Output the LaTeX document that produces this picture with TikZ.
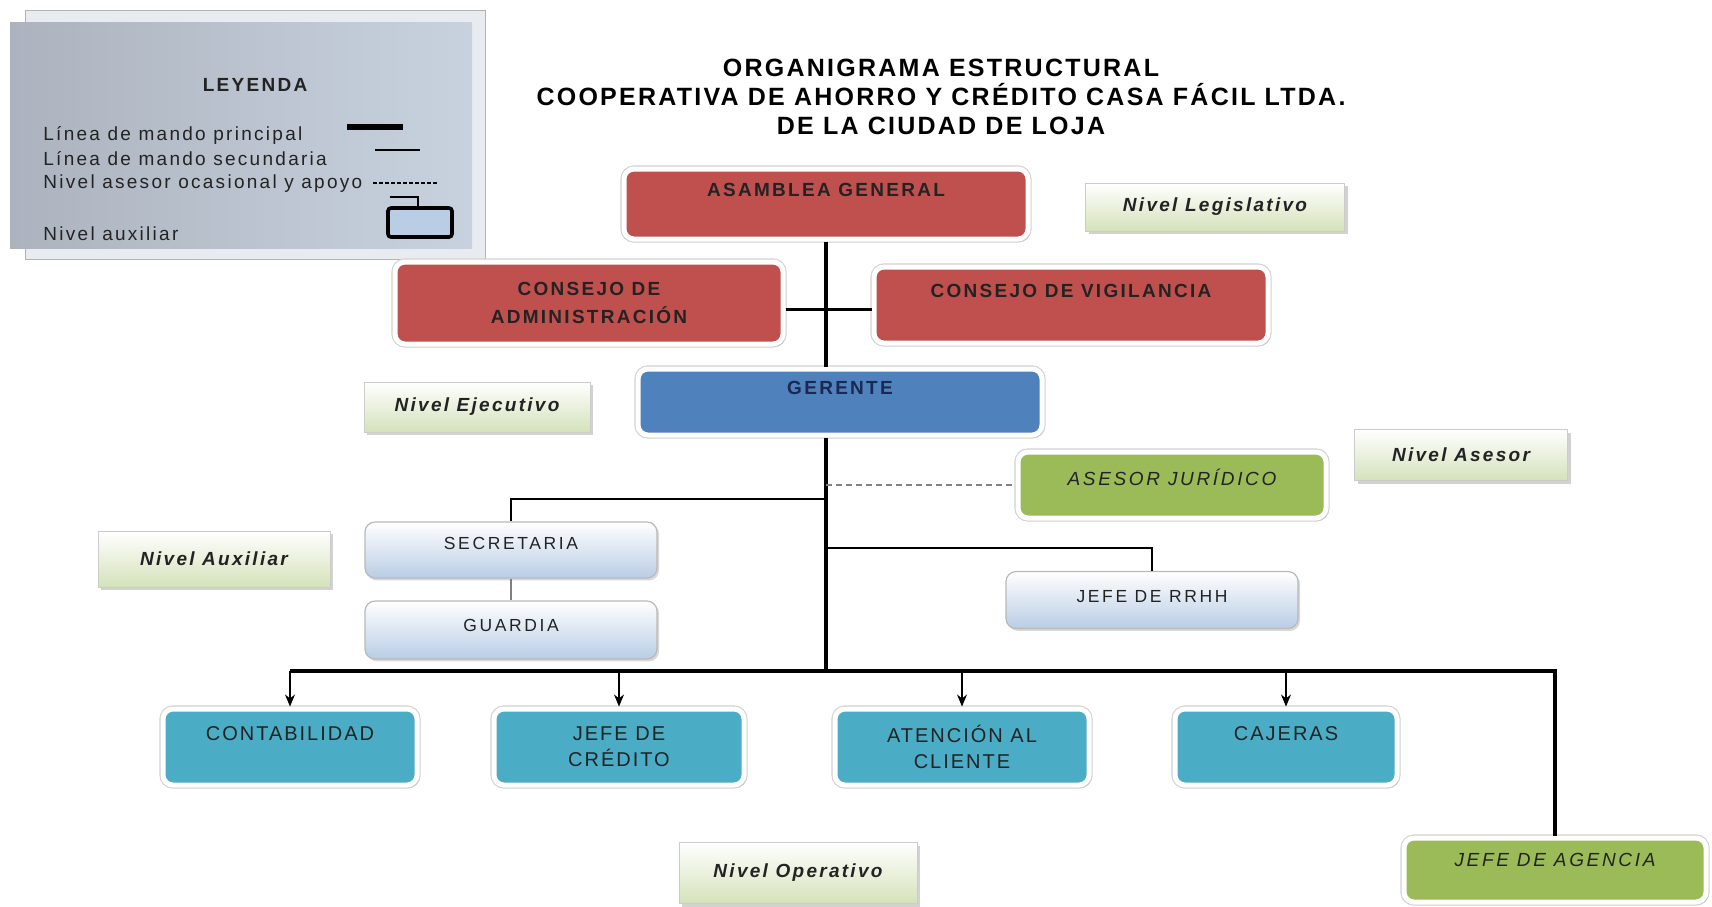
\documentclass[tikz,border=0pt]{standalone}
\usepackage{fontspec}
\setmainfont{Liberation Sans}
\newfontfamily\fontorg[LetterSpace=12]{Liberation Sans}
\newfontfamily\fontaux[LetterSpace=15]{Liberation Sans}
\newfontfamily\fontop[LetterSpace=10]{Liberation Sans}
\newfontfamily\fontase[LetterSpace=14]{Liberation Sans}
\newfontfamily\fonttit[LetterSpace=9]{Liberation Sans}
\usepackage{tikz}
\usetikzlibrary{shadows, arrows.meta}
\definecolor{cred}{RGB}{192,80,77}
\definecolor{cblue}{RGB}{79,129,189}
\definecolor{cgreen}{RGB}{155,187,89}
\definecolor{caqua}{RGB}{75,172,198}
\definecolor{clight}{RGB}{185,205,229}
\definecolor{cniv}{RGB}{212,226,186}
\definecolor{cnavy}{RGB}{28,40,80}
\definecolor{ctxt}{RGB}{35,35,35}
\definecolor{cleg1}{RGB}{172,179,190}
\definecolor{cleg2}{RGB}{218,225,234}
\definecolor{cleg3}{RGB}{200,210,223}
\definecolor{cframe}{RGB}{232,236,241}
\tikzstyle{org}=[rounded corners=5pt, draw=white, line width=2.5pt, align=center, text=ctxt,
  preaction={draw=gray!35, line width=3.6pt},
  drop shadow={shadow xshift=1pt, shadow yshift=-1.2pt, opacity=0.3},
  font=\fontsize{9.5pt}{14pt}\fontorg\bfseries]
\tikzstyle{consejo}=[org, fill=cred]
\tikzstyle{gerencia}=[org, fill=cblue, text=cnavy]
\tikzstyle{asesoria}=[org, fill=cgreen, font=\fontsize{9.5pt}{14pt}\fontase\itshape]
\tikzstyle{operativo}=[org, fill=caqua, font=\fontsize{10pt}{13pt}\fontop]
\tikzstyle{auxiliar}=[rounded corners=5pt, draw=gray!55, line width=0.6pt, top color=white, bottom color=clight,
  drop shadow={shadow xshift=1pt, shadow yshift=-1.2pt, opacity=0.3}, text=ctxt, align=center,
  font=\fontsize{8.75pt}{12pt}\fontaux]
\tikzstyle{nivel}=[draw=gray!40, line width=0.5pt, top color=white, bottom color=cniv, text=ctxt,
  drop shadow={shadow xshift=1.5pt, shadow yshift=-1.5pt, opacity=0.35},
  font=\fontsize{9.5pt}{12pt}\fontorg\bfseries\itshape]
\tikzstyle{titulo}=[align=center, font=\fontsize{12.5pt}{14.5pt}\fonttit\bfseries]
\tikzstyle{leyenda}=[text=ctxt, font=\fontsize{9.5pt}{12pt}\fontorg]
\tikzstyle{principal}=[black, line width=2pt]
\tikzstyle{secundaria}=[black, line width=0.7pt]
\tikzstyle{apoyo}=[gray, line width=0.8pt, dash pattern=on 3pt off 2pt]
\tikzstyle{arrow}=[black, line width=0.7pt, -{Stealth[length=6pt, width=5pt]}]
\begin{document}
\begin{tikzpicture}[x=0.5pt, y=-0.5pt]
  \useasboundingbox (0,0) rectangle (1712,906);
  \fill[white] (0,0) rectangle (1712,906);

  % leyenda
  \filldraw[fill=cframe, draw=gray!60, line width=0.5pt] (25,10) rectangle (485,259);
  \shade[left color=cleg1, middle color=cleg2, right color=cleg3] (10,22) rectangle (472,248);
  \node[leyenda, font=\fontsize{9.5pt}{12pt}\fontorg\bfseries] (leyenda) at (255,85) {LEYENDA};
  \foreach \t/\y [count=\i] in {Línea de mando principal/140, Línea de mando secundaria/165,
                                Nivel asesor ocasional y apoyo/188, Nivel auxiliar/240}{
    \node[leyenda, anchor=base west, inner sep=0pt] (ley-\i) at (43,\y) {\t};
  }
  \draw[black, line width=3pt] (347,127) -- (403,127);
  \draw[black, line width=0.6pt] (375,150) -- (420,150);
  \draw[black, line width=0.6pt, dash pattern=on 2pt off 1pt] (373,183) -- (437,183);
  \draw[black, line width=0.6pt] (390,197) -| (418,208);
  \filldraw[fill=clight, draw=black, line width=1.8pt, rounded corners=1.5pt] (388,208) rectangle (452,237);

  % titulo
  \node[titulo] (titulo) at (941,97) {ORGANIGRAMA ESTRUCTURAL\\COOPERATIVA DE AHORRO Y CRÉDITO CASA FÁCIL LTDA.\\DE LA CIUDAD DE LOJA};

  % niveles
  \node[nivel, minimum width=129.5pt, minimum height=24pt] (legislativo) at (1215,207) {Nivel Legislativo};
  \node[nivel, minimum width=113pt, minimum height=25pt] (ejecutivo) at (477,407) {Nivel Ejecutivo};
  \node[nivel, minimum width=106.5pt, minimum height=25.5pt] (asesorlbl) at (1461,455) {Nivel Asesor};
  \node[nivel, minimum width=116pt, minimum height=28pt] (auxiliarlbl) at (214,559) {Nivel Auxiliar};
  \node[nivel, minimum width=119pt, minimum height=30.5pt] (operativolbl) at (798,873) {Nivel Operativo};

  % cargos
  \node[consejo, minimum width=202pt, minimum height=35pt] (asamblea) at (826,204) {ASAMBLEA GENERAL\\~};
  \node[consejo, minimum width=194pt, minimum height=41pt] (administracion) at (589,303) {CONSEJO DE\\ADMINISTRACIÓN};
  \node[consejo, minimum width=197pt, minimum height=38pt] (vigilancia) at (1071,305) {CONSEJO DE VIGILANCIA\\~};
  \node[gerencia, minimum width=202pt, minimum height=33pt] (gerente) at (840,402) {GERENTE\\~};
  \node[asesoria, minimum width=154pt, minimum height=33pt] (asesor) at (1172,485) {ASESOR JURÍDICO\\[-6pt]~};
  \node[auxiliar, minimum width=146pt, minimum height=28pt] (secretaria) at (511,550) {SECRETARIA\\[-5pt]~};
  \node[auxiliar, minimum width=146pt, minimum height=29pt] (guardia) at (511,630) {GUARDIA\\[-7pt]~};
  \node[auxiliar, minimum width=146pt, minimum height=28.5pt] (rrhh) at (1152,600) {JEFE DE RRHH\\[-8pt]~};
  \node[asesoria, minimum width=151pt, minimum height=32pt] (agencia) at (1555,870) {JEFE DE AGENCIA\\[-4pt]~};

  \coordinate (bus) at (826,671);
  \coordinate (rama-sec) at (826,499);
  \coordinate (rama-rrhh) at (826,548);

  \foreach \n/\x/\w/\t in {contabilidad/290/127/{CONTABILIDAD\\~}, credito/619/125/{JEFE DE\\CRÉDITO},
                           atencion/962/127/{ATENCIÓN AL\\CLIENTE}, cajeras/1286/111/{CAJERAS\\~}}{
    \node[operativo, minimum width=\w pt, minimum height=38pt] (\n) at (\x,747) {\t};
    \draw[arrow] (\n.north |- bus) -- (\n.north);
  }

  % lineas de mando
  \draw[principal] (asamblea.south) -- (asamblea.south |- gerente.north);
  \draw[principal, line width=1.5pt] ([yshift=-3pt]administracion.east) -- ([yshift=-3pt]administracion.east -| vigilancia.west);
  \draw[principal] (gerente.south -| bus) -- (bus);
  \draw[principal] (contabilidad.north |- bus) -| (agencia.north);
  \draw[apoyo] (asesor.west -| bus) -- (asesor.west);
  \draw[secundaria] (rama-sec) -| (secretaria.north);
  \draw[secundaria, gray] (secretaria.south) -- (guardia.north);
  \draw[secundaria] (rama-rrhh) -| (rrhh.north);
\end{tikzpicture}
\end{document}
